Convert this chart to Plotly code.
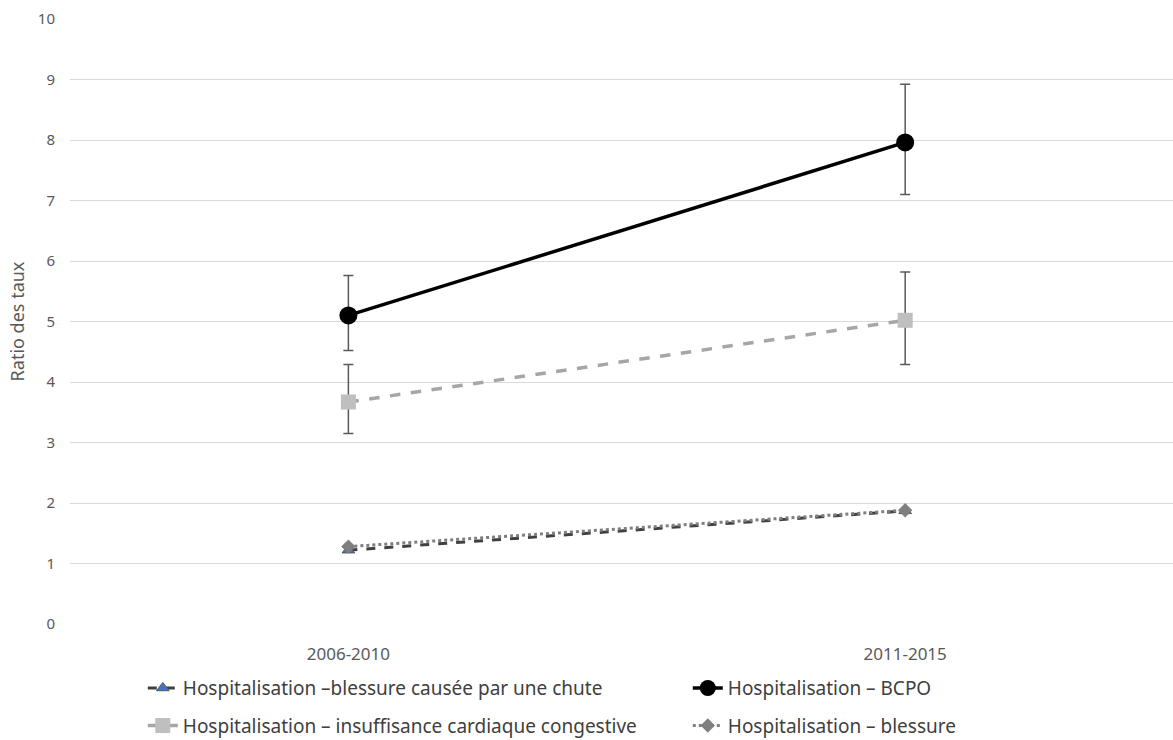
import plotly.graph_objects as go

periods = ["2006-2010", "2011-2015"]

fall_name = "Hospitalisation –blessure causée par une chute"
fall_vals = [1.22, 1.87]

bcpo_name = "Hospitalisation – BCPO"
bcpo_vals = [5.10, 7.96]
bcpo_hi = [5.76, 8.92]
bcpo_lo = [4.52, 7.10]

icc_name = "Hospitalisation – insuffisance cardiaque congestive"
icc_vals = [3.67, 5.02]
icc_hi = [4.29, 5.82]
icc_lo = [3.15, 4.29]

inj_name = "Hospitalisation – blessure"
inj_vals = [1.28, 1.88]

FONT = "Noto Sans, Roboto, Arial, sans-serif"

def err(vals, hi, lo):
    return dict(type="data", symmetric=False,
                array=[h - v for h, v in zip(hi, vals)],
                arrayminus=[v - l for v, l in zip(vals, lo)],
                color="#595959", thickness=1.5, width=5)

fig = go.Figure()
fig.add_trace(go.Scatter(
    x=periods, y=fall_vals, name=fall_name, mode="lines+markers",
    line=dict(color="#404040", width=3, dash="dash"),
    marker=dict(symbol="triangle-up", size=11, color="#4472C4",
                line=dict(color="#595959", width=1)),
    legend="legend"))
fig.add_trace(go.Scatter(
    x=periods, y=bcpo_vals, name=bcpo_name, mode="lines+markers",
    line=dict(color="#000000", width=3.5),
    marker=dict(symbol="circle", size=18, color="#000000"),
    error_y=err(bcpo_vals, bcpo_hi, bcpo_lo),
    legend="legend"))
fig.add_trace(go.Scatter(
    x=periods, y=icc_vals, name=icc_name, mode="lines+markers",
    line=dict(color="#A6A6A6", width=3.5, dash="dash"),
    marker=dict(symbol="square", size=15, color="#BFBFBF"),
    error_y=err(icc_vals, icc_hi, icc_lo),
    legend="legend2"))
fig.add_trace(go.Scatter(
    x=periods, y=inj_vals, name=inj_name, mode="lines+markers",
    line=dict(color="#7F7F7F", width=3, dash="dot"),
    marker=dict(symbol="diamond", size=11, color="#7F7F7F"),
    legend="legend2"))

legend_common = dict(orientation="h", xanchor="left", x=0.066, yanchor="middle",
                     font=dict(family=FONT, size=19, color="#404040"),
                     entrywidth=500, entrywidthmode="pixels",
                     bgcolor="rgba(0,0,0,0)")

fig.update_layout(
    width=1173, height=740,
    margin=dict(l=70, r=0, t=19, b=116, autoexpand=False),
    plot_bgcolor="white", paper_bgcolor="white",
    font=dict(family=FONT, color="#595959"),
    showlegend=True,
    legend=dict(legend_common, y=-0.106),
    legend2=dict(legend_common, y=-0.168),
    xaxis=dict(type="category", range=[-0.5, 1.481], showgrid=False,
               showline=False, zeroline=False, ticks="",
               ticklabelstandoff=18,
               tickfont=dict(family=FONT, size=17, color="#595959")),
    yaxis=dict(range=[0, 10], dtick=1, showgrid=True, gridcolor="#D9D9D9",
               gridwidth=1, zeroline=False, showline=False, ticks="",
               tickfont=dict(family=FONT, size=15, color="#595959"),
               ticklabelstandoff=14,
               title=dict(text="Ratio des taux", standoff=8,
                          font=dict(family=FONT, size=18, color="#595959"))),
)

fig.write_html("out.html", config={"displayModeBar": False},
               post_script="document.body.style.margin='0';")
